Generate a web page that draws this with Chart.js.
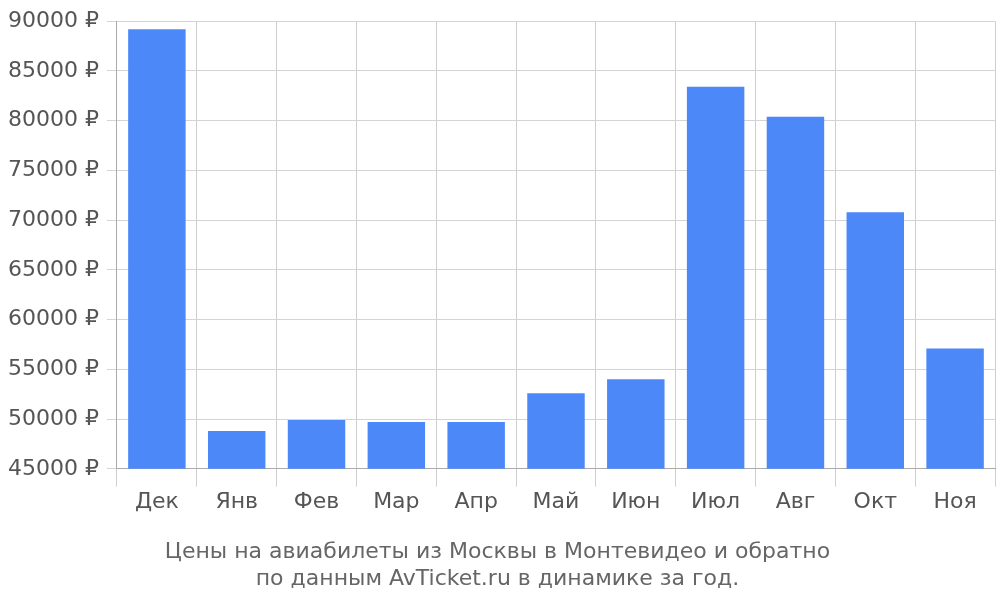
<!DOCTYPE html>
<html>
<head>
<meta charset="utf-8">
<script src="https://cdn.jsdelivr.net/npm/chart.js@4"></script>
<style>
  body { margin: 0; background: #fff; }
  #wrap { width: 1000px; height: 600px; }
</style>
</head>
<body>
<div id="wrap"><canvas id="chart"></canvas></div>
<script>
const months = ["Дек", "Янв", "Фев", "Мар", "Апр", "Май", "Июн", "Июл", "Авг", "Окт", "Ноя"];
const prices = [89200, 48800, 49900, 49700, 49700, 52600, 54000, 83400, 80400, 70800, 57100];
const titleLines = ["Цены на авиабилеты из Москвы в Монтевидео и обратно", "по данным AvTicket.ru в динамике за год."];

Chart.defaults.font.family = "DejaVu Sans";
Chart.defaults.color = "#555";

new Chart(document.getElementById("chart"), {
  type: "bar",
  data: {
    labels: months,
    datasets: [{
      data: prices,
      backgroundColor: "#4d88f9",
      barPercentage: 0.72,
      categoryPercentage: 1
    }]
  },
  options: {
    responsive: true,
    maintainAspectRatio: false,
    animation: false,
    layout: { padding: { top: 4, right: 5, bottom: 8, left: 0 } },
    plugins: {
      legend: { display: false },
      tooltip: { enabled: false },
      title: {
        display: true,
        position: "bottom",
        text: titleLines,
        color: "#666",
        font: { size: 22, weight: "normal" },
        padding: { top: 22, bottom: 0 },
        lineHeight: 1.2
      }
    },
    scales: {
      x: {
        grid: { color: "#cfcfcf", offset: true, tickLength: 18 },
        border: { color: "#aaa" },
        ticks: { font: { size: 22 }, padding: 2 }
      },
      y: {
        min: 45000,
        max: 90000,
        grid: { color: "#d4d4d4", tickLength: 10 },
        border: { color: "#aaa" },
        ticks: {
          stepSize: 5000,
          font: { size: 22 },
          padding: 8,
          callback: v => v + " ₽"
        }
      }
    }
  }
});
</script>
</body>
</html>
